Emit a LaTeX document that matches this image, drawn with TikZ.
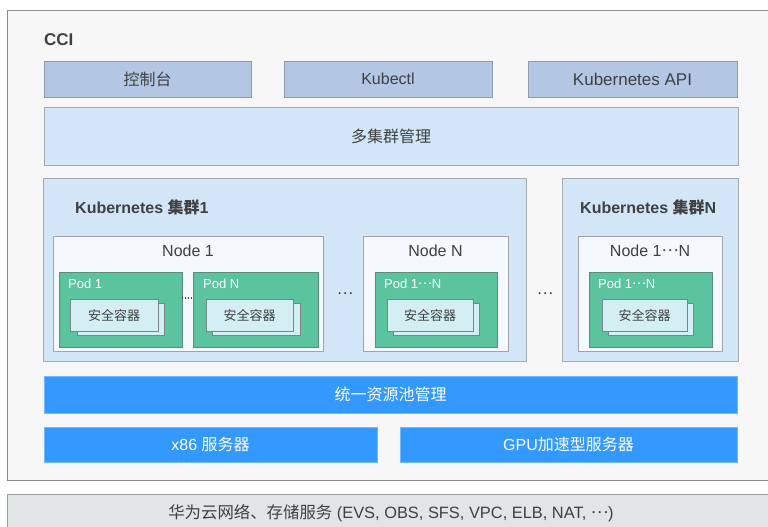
\documentclass[tikz,border=0pt]{standalone}
\usepackage{fontspec}
\setmainfont{Liberation Sans}
\newfontfamily\cjk{Noto Sans CJK SC}
\newcommand\mdots{\raisebox{0.3em}{\cjk …}}
\definecolor{txt}{HTML}{404040}
\definecolor{ccibg}{HTML}{F7F7F7}
\definecolor{ccibd}{HTML}{8C8C8C}
\definecolor{topfill}{HTML}{B3C6E4}
\definecolor{topbd}{HTML}{8E9AAE}
\definecolor{lightfill}{HTML}{D2E6F8}
\definecolor{lightbd}{HTML}{A3ABB3}
\definecolor{nodefill}{HTML}{F5F8FD}
\definecolor{nodebd}{HTML}{A0A4A8}
\definecolor{podfill}{HTML}{5BC49F}
\definecolor{podbd}{HTML}{5E8C7C}
\definecolor{secfill}{HTML}{D3EFF3}
\definecolor{secbd}{HTML}{7A8586}
\definecolor{bluefill}{HTML}{3399FF}
\definecolor{bluebd}{HTML}{70B8FF}
\definecolor{botfill}{HTML}{E1E5E5}
\definecolor{botbd}{HTML}{A0A0A0}
\newcommand\bx[7]{\node[#6, minimum width={#4-#2}, minimum height={#5-#3}] (#1) at ({(#2+#4)/2},{(#3+#5)/2}) {#7};}
\begin{document}
\begin{tikzpicture}[x=1pt,y=-1pt,
  base/.style={draw, line width=0.9pt, inner sep=0pt, outer sep=0pt, text=txt, font=\fontsize{16}{18}\selectfont},
  ccibox/.style={base, fill=ccibg, draw=ccibd},
  topbox/.style={base, fill=topfill, draw=topbd},
  lightbox/.style={base, fill=lightfill, draw=lightbd},
  nodebox/.style={base, fill=nodefill, draw=nodebd},
  podbox/.style={base, fill=podfill, draw=podbd},
  secbox/.style={base, fill=secfill, draw=secbd, font=\cjk\fontsize{13}{15}\selectfont},
  bluebox/.style={base, fill=bluefill, draw=bluebd, text=white},
  botbox/.style={base, fill=botfill, draw=botbd},
  lbl/.style={inner sep=0pt, text=txt, font=\fontsize{16}{18}\selectfont},
  clbl/.style={lbl, anchor=west, font=\bfseries\fontsize{16}{18}\selectfont},
  podlbl/.style={inner sep=0pt, anchor=west, text=white, font=\fontsize{13}{15}\selectfont},
  dots/.style={inner sep=0pt, anchor=base, text=txt, font=\cjk\fontsize{15}{17}\selectfont}
]
\useasboundingbox (0,0) rectangle (768,527);
\fill[white] (0,0) rectangle (768,527);

% outer CCI frame
\bx{cci}{7}{10}{772}{480}{ccibox}{}
\node[clbl, font=\bfseries\fontsize{17}{19}\selectfont] (ccilbl) at (44,40) {CCI};

% top row
\bx{console}{44}{61}{251}{97}{topbox}{\cjk 控制台}
\bx{kubectl}{284}{61}{492}{97}{topbox}{Kubectl}
\bx{kapi}{528}{61}{737}{97}{topbox}{\fontsize{17}{19}\selectfont Kubernetes API}

% multi-cluster management
\bx{multi}{44}{107}{738}{165}{lightbox}{\cjk 多集群管理}

% cluster 1
\bx{cl1}{43}{178}{526}{361}{lightbox}{}
\node[clbl] (cl1lbl) at (75,207) {Kubernetes {\cjk 集群}1};

\bx{n1}{53}{236}{323}{351}{nodebox}{}
\node[lbl] (n1lbl) at (188,251) {Node 1};
\bx{p1}{59}{272}{182}{347}{podbox}{}
\node[podlbl] (p1lbl) at (68,284) {Pod 1};
\bx{s1b}{77}{303}{164}{335}{secbox}{}
\bx{s1}{70}{299}{158}{331}{secbox}{安全容器}
\bx{p2}{193}{272}{318}{347}{podbox}{}
\node[podlbl] (p2lbl) at (203,284) {Pod N};
\bx{s2b}{212}{303}{300}{335}{secbox}{}
\bx{s2}{206}{299}{293}{331}{secbox}{安全容器}
\draw[txt, line width=1.4pt, dash pattern=on 1.4pt off 1.6pt] ([yshift=11.5pt]p1.east) -- ([yshift=11.5pt]p2.west);

\node[dots] (d1) at (345,294) {…};

\bx{nN}{363}{236}{508}{351}{nodebox}{}
\node[lbl] (nNlbl) at (435.5,251) {Node N};
\bx{p3}{375}{272}{497}{347}{podbox}{}
\node[podlbl] (p3lbl) at (384,284) {Pod 1\mdots N};
\bx{s3b}{393}{303}{479}{335}{secbox}{}
\bx{s3}{387}{299}{473}{331}{secbox}{安全容器}

\node[dots] (d2) at (545,294) {…};

% cluster N
\bx{clN}{562}{178}{738}{361}{lightbox}{}
\node[clbl] (clNlbl) at (580,207) {Kubernetes {\cjk 集群}N};
\bx{nM}{578}{236}{722}{351}{nodebox}{}
\node[lbl] (nMlbl) at (650,251) {Node 1\mdots N};
\bx{p4}{589}{272}{712}{347}{podbox}{}
\node[podlbl] (p4lbl) at (598,284) {Pod 1\mdots N};
\bx{s4b}{608}{303}{693}{335}{secbox}{}
\bx{s4}{602}{299}{687}{331}{secbox}{安全容器}

% resource pool and servers
\bx{pool}{44}{376}{737}{413}{bluebox}{\cjk 统一资源池管理}
\bx{x86}{44}{427}{377}{462}{bluebox}{x86 {\cjk 服务器}}
\bx{gpu}{400}{427}{737}{462}{bluebox}{GPU{\cjk 加速型服务器}}

% bottom services
\bx{svc}{7}{494}{772}{535}{botbox}{}
\node[lbl, font=\fontsize{16.4}{18}\selectfont] (svclbl) at (391,513) {{\cjk 华为云网络、存储服务} (EVS, OBS, SFS, VPC, ELB, NAT, \mdots)};
\end{tikzpicture}
\end{document}
